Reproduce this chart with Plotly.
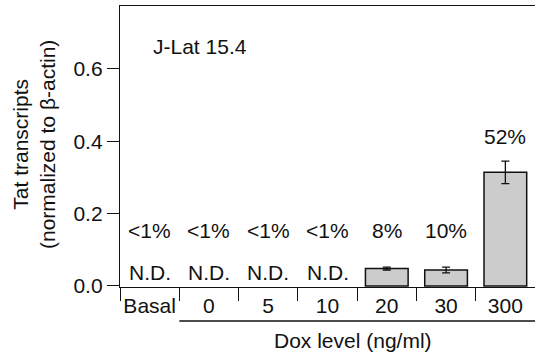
import plotly.graph_objects as go

# Tat transcript levels in J-Lat 15.4 across doxycycline doses
categories = ["Basal", "0", "5", "10", "20", "30", "300"]
tat_values = [None, None, None, None, 0.048, 0.044, 0.314]
tat_errors = [None, None, None, None, 0.004, 0.008, 0.031]
pct_labels = ["<1%", "<1%", "<1%", "<1%", "8%", "10%", "52%"]
pct_y = [0.152, 0.152, 0.152, 0.152, 0.152, 0.152, 0.413]
nd_labels = ["N.D.", "N.D.", "N.D.", "N.D.", "", "", ""]
nd_y = 0.037
y_ticks = [0.0, 0.2, 0.4, 0.6]

FONT = "Liberation Sans, Arial, Helvetica, sans-serif"
FS = 21
INK = "#111111"

W, H = 535, 360
ML, MR, MT, MB = 120, 0, 6, 73

fig = go.Figure()
fig.add_trace(go.Bar(
    x=categories, y=tat_values, width=0.72,
    marker=dict(color="#cccccc", line=dict(color=INK, width=1.5)),
    error_y=dict(type="data", array=tat_errors, visible=True,
                 color=INK, thickness=1.3, width=4),
    showlegend=False,
))

annotations = []
# category positions are given by index so numeric labels are not read as values
for i, (t, y) in enumerate(zip(pct_labels, pct_y)):
    annotations.append(dict(x=i, y=y, xref="x", yref="y", text=t,
                            showarrow=False, font=dict(size=FS, color=INK)))
for i, t in enumerate(nd_labels):
    if t:
        annotations.append(dict(x=i, y=nd_y, xref="x", yref="y", text=t,
                                showarrow=False, font=dict(size=FS, color=INK)))

pw, ph = W - ML - MR, H - MT - MB


def paper_label(px, py, text, **kw):
    """Text centred on a pixel position given relative to the page."""
    return dict(x=(px - ML) / pw, y=(H - MB - py) / ph, xref="paper", yref="paper",
                xanchor="center", yanchor="middle", text=text, showarrow=False,
                font=dict(size=FS, color=INK), **kw)


annotations.append(paper_label(200, 46.7, "J-Lat 15.4"))
annotations.append(paper_label(34, 145, "Tat transcripts<br>(normalized to β-actin)",
                               textangle=-90))
annotations.append(paper_label(353, 340, "Dox level (ng/ml)"))

fig.update_layout(
    width=W, height=H,
    margin=dict(l=ML, r=MR, t=MT, b=MB, pad=0),
    paper_bgcolor="white", plot_bgcolor="white",
    font=dict(family=FONT, size=FS, color=INK),
    annotations=annotations,
    shapes=[dict(type="line", xref="x", yref="paper", x0=0.5, x1=6.5,
                 y0=(H - MB - 321) / ph, y1=(H - MB - 321) / ph,
                 line=dict(color=INK, width=1.3))],
)
fig.update_xaxes(
    type="category", range=[-0.5, 6.5], tickangle=0,
    showline=True, linecolor=INK, linewidth=1.3, mirror=True,
    ticks="outside", tickson="boundaries", ticklen=13, tickcolor=INK, tickwidth=1.3,
    showgrid=False, zeroline=False, automargin=False,
)
fig.update_yaxes(
    range=[-0.003, 0.774], tickvals=y_ticks, ticktext=[f"{v:.1f}" for v in y_ticks],
    showline=True, linecolor=INK, linewidth=1.3, mirror=True,
    ticks="outside", ticklen=12, tickcolor=INK, tickwidth=1.3,
    showgrid=False, zeroline=False, automargin=False,
)

fig.write_html("out.html")
